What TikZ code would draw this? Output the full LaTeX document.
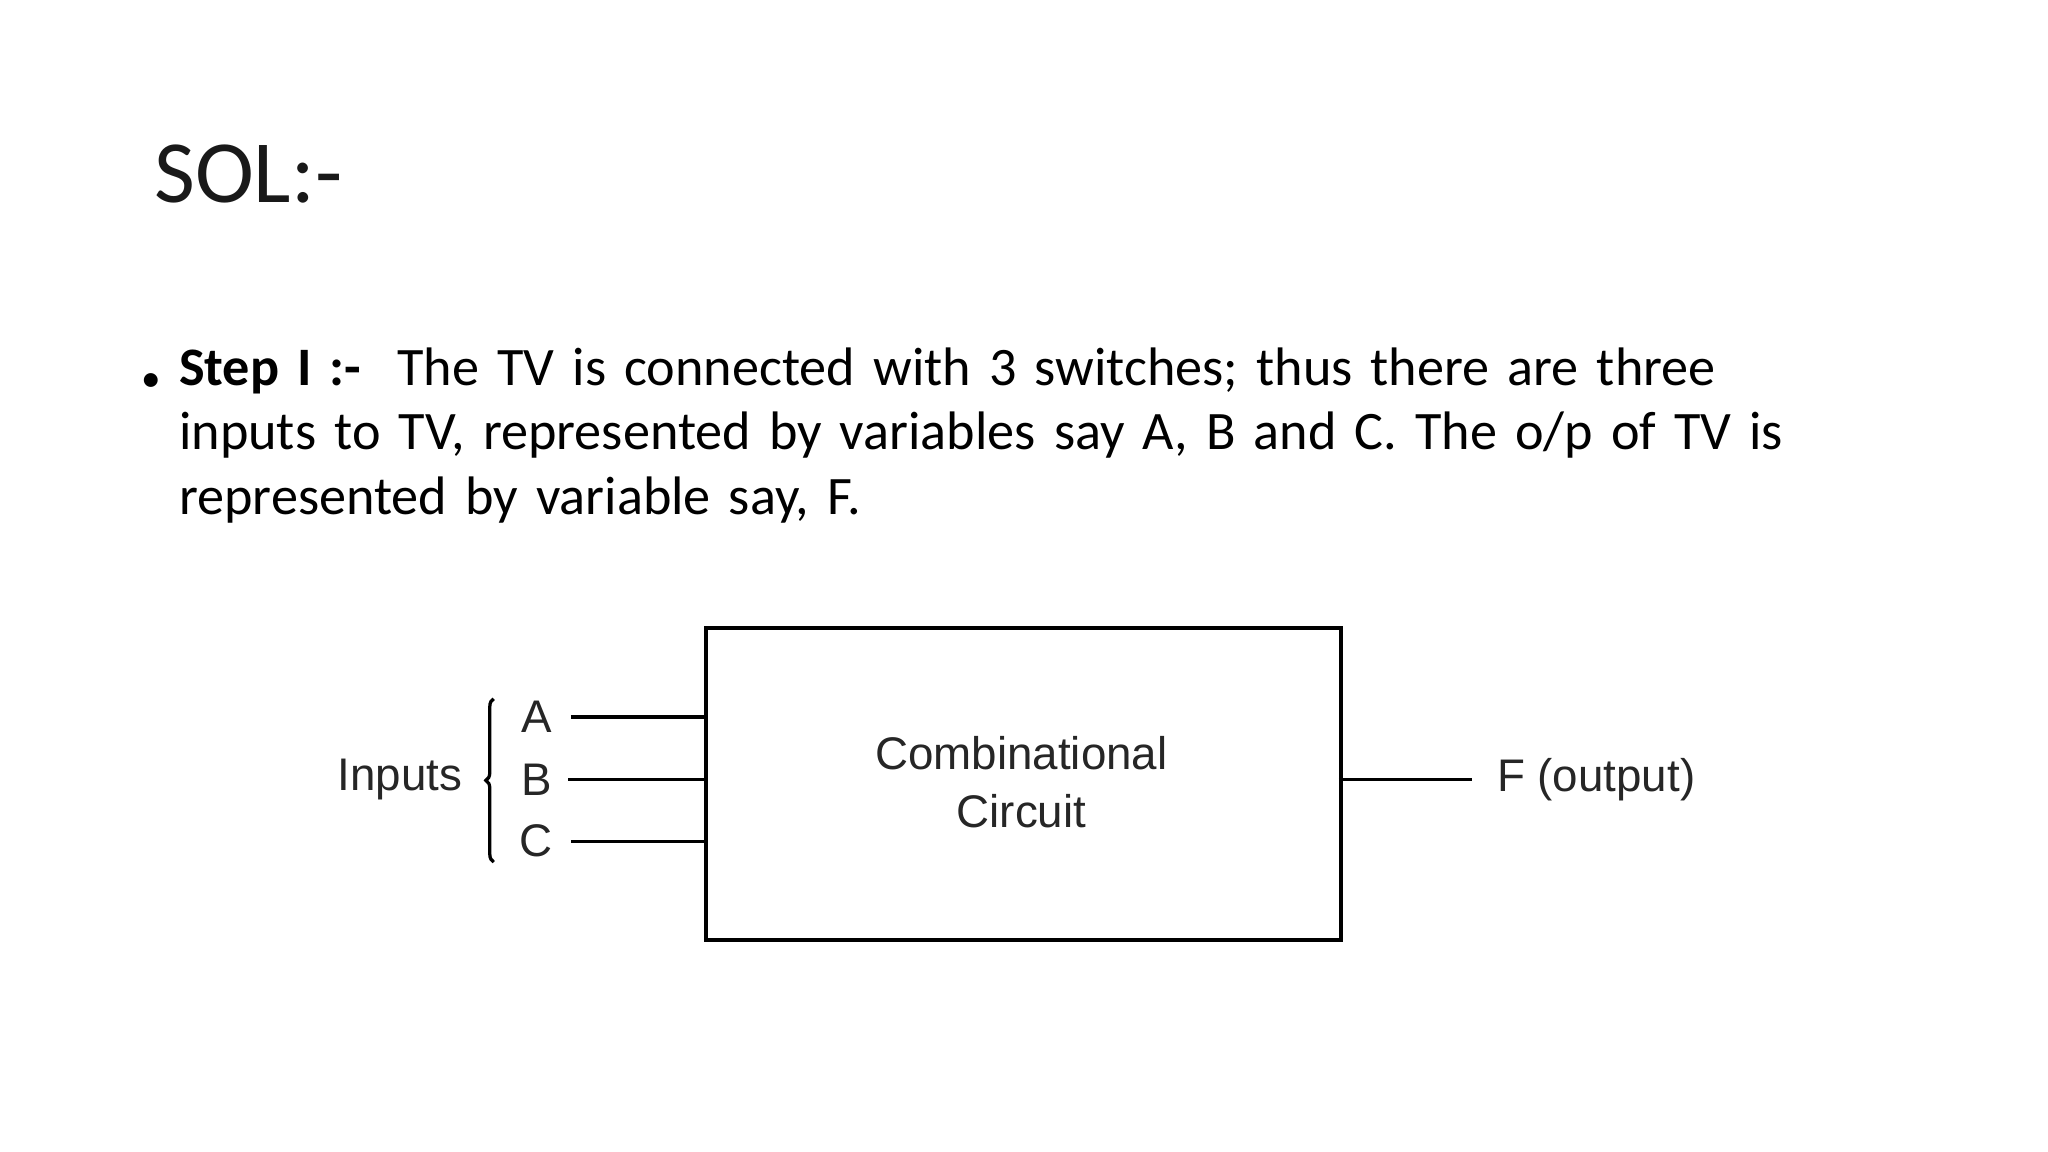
\documentclass[tikz,border=0pt]{standalone}
\usepackage{fontspec}
\setmainfont{Carlito}
\newfontfamily\arialf{Liberation Sans}
\usetikzlibrary{decorations.pathreplacing}
\begin{document}
\begin{tikzpicture}[x=1pt,y=-1pt,
  lbl/.style={font=\arialf\fontsize{35}{40}\selectfont,text=black!85,inner sep=0pt},
  wire/.style={line width=2.5pt}]
\useasboundingbox (0,0) rectangle (1568,882);
\node[anchor=base west,inner sep=0pt,font=\fontsize{68}{80}\selectfont,text=black!90] (title) at (118,155) {SOL:-};
\node[anchor=base west,inner sep=0pt,font=\fontsize{30}{36}\selectfont] (bul) at (108,300) {•};
\node[anchor=north west,inner sep=0pt,align=left,text width=1300pt,font=\fontsize{41.5}{49.5}\selectfont] (txt) at (137,266)
 {\textbf{Step I :-}\ \ The TV is connected with 3 switches; thus there are three\\inputs to TV, represented by variables say A, B and C. The o/p of TV is\\represented by variable say, F.};
\node[draw,line width=3pt,minimum width=486pt,minimum height=239pt,inner sep=0pt,anchor=north west] (box) at (539,479) {};
\node[lbl,align=center] (cc) at (782,599) {Combinational\\[4pt]Circuit};
\coordinate (a) at (539,549); \coordinate (b) at (539,597); \coordinate (c) at (539,644);
\node[lbl,anchor=east] (A) at (423,549) {A};
\node[lbl,anchor=east] (B) at (423,597) {B};
\node[lbl,anchor=east] (C) at (423,644) {C};
\draw[wire] (A.east)+(14,0) -- (a);
\draw[wire] (B.east)+(12,0) -- (b);
\draw[wire] (C.east)+(14,0) -- (c);
\coordinate (o1) at (1025,597); \coordinate (o2) at (1127,597);
\draw[wire] (o1) -- (o2);
\node[lbl,anchor=west] (F) at (1146,597) {F (output)};
\draw[line width=2.5pt,decorate,decoration={brace,amplitude=6pt}] (378,660) -- (378,535);
\node[lbl,anchor=east] (inp) at (354,597) {Inputs};
\end{tikzpicture}
\end{document}
